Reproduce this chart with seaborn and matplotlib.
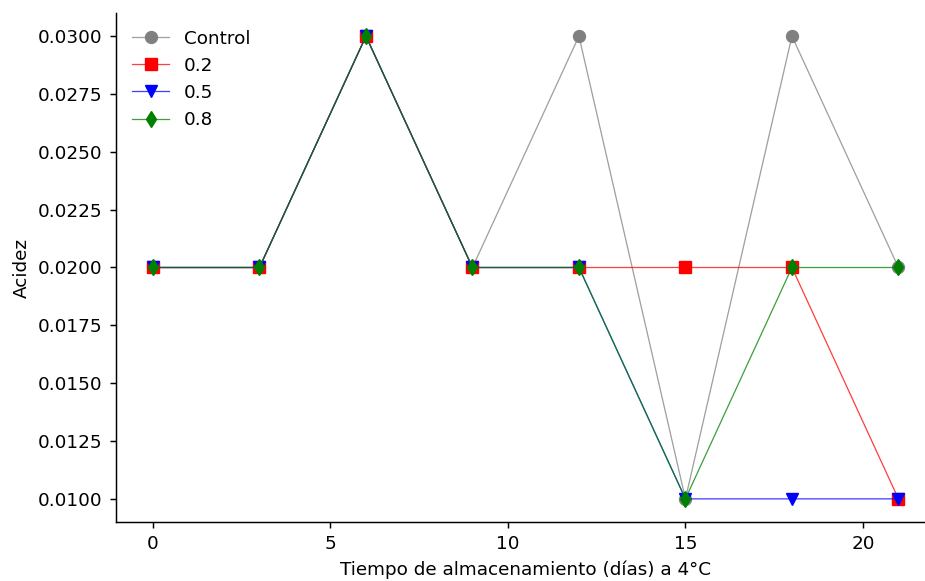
import matplotlib
matplotlib.use("Agg")
import matplotlib.pyplot as plt
import matplotlib.colors as mcolors
import seaborn as sns
import pandas as pd

# Storage time (days) at 4 °C
dias = [0, 3, 6, 9, 12, 15, 18, 21]

# Acidity per treatment
control = [0.02, 0.02, 0.03, 0.02, 0.03, 0.01, 0.03, 0.02]
t_02 = [0.02, 0.02, 0.03, 0.02, 0.02, 0.02, 0.02, 0.01]
t_05 = [0.02, 0.02, 0.03, 0.02, 0.02, 0.01, 0.01, 0.01]
t_08 = [0.02, 0.02, 0.03, 0.02, 0.02, 0.01, 0.02, 0.02]

series = [
    ("Control", control, "gray", "o"),
    ("0.2", t_02, "red", "s"),
    ("0.5", t_05, "blue", "v"),
    ("0.8", t_08, "green", "d"),
]

DPI = 132
fig = plt.figure(figsize=(925 / DPI, 581 / DPI), dpi=DPI)
ax = fig.add_axes([115.7 / 925, 1 - 522 / 581, 820 / 925, (522 - 13) / 581])

for name, vals, color, marker in series:
    df = pd.DataFrame({"dias": dias, "acidez": vals})
    line_rgba = mcolors.to_rgba(color, 0.75)
    sns.lineplot(data=df, x="dias", y="acidez", ax=ax, color=line_rgba,
                 marker=marker, markersize=6.5, markeredgecolor=color,
                 markerfacecolor=color, linewidth=0.7, label=name)

ax.set_xlabel("Tiempo de almacenamiento (días) a 4°C")
ax.set_ylabel("Acidez")
ax.set_xticks([0, 5, 10, 15, 20])
ax.yaxis.set_major_formatter(matplotlib.ticker.FormatStrFormatter("%.4f"))
sns.despine(ax=ax)
ax.legend(loc="upper left", frameon=False)

fig.savefig("out.png", dpi=DPI)
